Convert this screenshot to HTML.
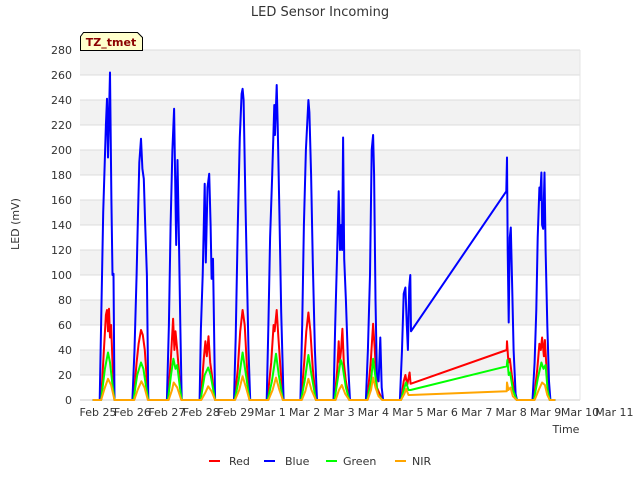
<!DOCTYPE html>
<html><head><meta charset="utf-8"><style>
body{margin:0;background:#fff;font-family:"Liberation Sans","DejaVu Sans",sans-serif}
svg text{font-family:"DejaVu Sans","Liberation Sans",sans-serif}
</style></head><body>
<svg id="c" width="640" height="480" xmlns="http://www.w3.org/2000/svg">
<rect width="640" height="480" fill="#fff"/>
<g id="bands"></g><g id="grid"></g>
<g id="series"></g>
<text x="320" y="16" text-anchor="middle" font-size="13" fill="#333">LED Sensor Incoming</text>
<text x="19" y="224" text-anchor="middle" font-size="11" fill="#333" transform="rotate(-90 19 224)">LED (mV)</text>
<text x="566" y="433" text-anchor="middle" font-size="11" fill="#333">Time</text>
<g id="ticks"></g>
<g>
<path d="M80.5,50.5 V36.5 L83.5,32.5 H137.5 L142.5,37.5 V50.5 Z" fill="#ffffcc" stroke="#000" stroke-width="1"/>
<text x="111" y="46" text-anchor="middle" font-size="11" font-weight="bold" fill="#8b0000">TZ_tmet</text>
</g>
<g id="legend"></g>
</svg>
<script>
const yTicks=[0,20,40,60,80,100,120,140,160,180,200,220,240,260,280];
const xTickLabels=["Feb 25","Feb 26","Feb 27","Feb 28","Feb 29","Mar 1","Mar 2","Mar 3","Mar 4","Mar 5","Mar 6","Mar 7","Mar 8","Mar 9","Mar 10","Mar 11"];
const seriesNames=["Red","Blue","Green","NIR"];
const seriesColors=["#ff0000","#0000ff","#00ff00","#ffa500"];
const blueData=[[-0.15,0],[0.05,0],[0.09,60],[0.15,150],[0.23,220],[0.26,241],[0.29,194],[0.35,262],[0.39,160],[0.42,100],[0.45,101],[0.48,0],
[1.0,0],[1.06,40],[1.12,100],[1.16,145],[1.2,190],[1.25,209],[1.29,185],[1.33,177],[1.37,140],[1.42,100],[1.46,0],
[2.0,0],[2.06,60],[2.11,140],[2.16,200],[2.21,233],[2.24,180],[2.27,124],[2.31,192],[2.35,130],[2.39,60],[2.43,0],
[2.95,0],[2.99,57],[3.04,100],[3.1,173],[3.13,110],[3.18,170],[3.23,181],[3.27,140],[3.3,97],[3.34,113],[3.37,60],[3.4,0],
[3.95,0],[4.0,50],[4.06,140],[4.12,210],[4.17,245],[4.2,249],[4.23,240],[4.28,160],[4.32,110],[4.37,40],[4.42,0],
[4.9,0],[4.95,60],[5.0,130],[5.06,180],[5.12,236],[5.14,212],[5.19,252],[5.22,220],[5.27,150],[5.32,70],[5.39,0],
[5.88,0],[5.93,60],[5.98,140],[6.04,200],[6.11,240],[6.14,230],[6.19,180],[6.24,110],[6.3,40],[6.36,0],
[6.84,0],[6.89,60],[6.94,110],[6.99,167],[7.03,120],[7.06,140],[7.09,120],[7.12,210],[7.15,113],[7.2,80],[7.26,30],[7.32,0],
[7.78,0],[7.84,40],[7.9,100],[7.95,200],[7.99,212],[8.02,180],[8.06,80],[8.1,20],[8.15,15],[8.2,50],[8.24,10],[8.28,0],
[8.77,0],[8.83,40],[8.88,85],[8.93,90],[8.97,60],[9.0,40],[9.04,90],[9.07,100],[9.09,55],[11.86,167],[11.88,194],[11.9,120],[11.93,62],[11.96,130],[11.99,138],[12.03,90],[12.07,40],[12.13,5],[12.17,0],
[12.62,0],[12.68,30],[12.73,72],[12.77,130],[12.82,170],[12.84,160],[12.88,182],[12.9,140],[12.93,137],[12.97,182],[13.0,120],[13.05,60],[13.1,15],[13.14,0],[13.28,0]];
const redData=[[-0.15,0],[0.09,0],[0.17,40],[0.23,68],[0.26,72],[0.29,55],[0.32,73],[0.35,50],[0.38,60],[0.42,30],[0.48,0],
[1.03,0],[1.12,30],[1.18,45],[1.25,56],[1.3,52],[1.36,40],[1.42,15],[1.46,0],
[2.03,0],[2.12,35],[2.18,65],[2.22,40],[2.25,55],[2.3,40],[2.36,20],[2.43,0],
[2.98,0],[3.08,35],[3.12,47],[3.16,35],[3.21,51],[3.26,30],[3.3,22],[3.36,8],[3.4,0],
[3.97,0],[4.06,25],[4.13,55],[4.2,72],[4.26,60],[4.32,30],[4.4,0],
[4.92,0],[5.03,30],[5.1,60],[5.13,55],[5.19,72],[5.24,50],[5.3,25],[5.38,0],
[5.9,0],[5.99,30],[6.05,55],[6.11,70],[6.17,55],[6.24,25],[6.33,0],
[6.87,0],[6.95,25],[6.99,47],[7.02,30],[7.06,40],[7.1,57],[7.14,30],[7.2,15],[7.3,0],
[7.82,0],[7.92,30],[7.99,61],[8.04,40],[8.1,10],[8.18,5],[8.26,0],
[8.8,0],[8.88,15],[8.93,20],[8.98,12],[9.05,22],[9.08,13],[11.87,40],[11.88,47],[11.92,30],[11.96,33],[12.02,20],[12.1,5],[12.16,0],
[12.66,0],[12.76,25],[12.82,45],[12.86,40],[12.9,50],[12.95,35],[12.98,48],[13.04,20],[13.12,0],[13.28,0]];
const greenData=[[-0.15,0],[0.09,0],[0.2,25],[0.29,38],[0.35,30],[0.42,12],[0.48,0],
[1.03,0],[1.14,20],[1.25,30],[1.32,25],[1.4,10],[1.46,0],
[2.03,0],[2.12,20],[2.19,33],[2.25,25],[2.3,28],[2.38,10],[2.43,0],
[2.98,0],[3.1,20],[3.2,26],[3.27,20],[3.35,8],[3.4,0],
[3.97,0],[4.08,15],[4.2,38],[4.3,20],[4.4,0],
[4.93,0],[5.05,15],[5.17,37],[5.25,20],[5.37,0],
[5.9,0],[6.0,15],[6.11,36],[6.2,20],[6.33,0],
[6.87,0],[6.97,18],[7.05,32],[7.1,28],[7.2,10],[7.3,0],
[7.82,0],[7.93,15],[7.99,33],[8.05,20],[8.12,5],[8.26,0],
[8.8,0],[8.9,10],[8.95,14],[9.02,8],[9.08,8],[11.87,27],[11.89,32],[11.93,20],[11.97,22],[12.05,8],[12.16,0],
[12.66,0],[12.78,18],[12.88,30],[12.94,25],[13.0,28],[13.06,8],[13.12,0],[13.28,0]];
const nirData=[[-0.15,0],[0.09,0],[0.2,10],[0.29,17],[0.38,12],[0.48,0],
[1.05,0],[1.15,8],[1.26,15],[1.35,10],[1.45,0],
[2.05,0],[2.15,8],[2.2,14],[2.3,10],[2.42,0],
[3.0,0],[3.12,6],[3.2,11],[3.3,7],[3.4,0],
[3.98,0],[4.1,8],[4.2,19],[4.3,10],[4.4,0],
[4.95,0],[5.07,8],[5.17,18],[5.27,8],[5.37,0],
[5.92,0],[6.02,7],[6.11,17],[6.2,8],[6.33,0],
[6.9,0],[7.0,8],[7.08,12],[7.18,5],[7.3,0],
[7.83,0],[7.93,8],[7.99,18],[8.06,10],[8.15,3],[8.26,0],
[8.8,0],[8.9,5],[8.95,9],[9.02,4],[9.08,4],[11.87,7],[11.88,14],[11.92,8],[11.98,10],[12.05,3],[12.16,0],
[12.68,0],[12.8,8],[12.9,14],[12.98,12],[13.05,4],[13.12,0],[13.28,0]];

const NS="http://www.w3.org/2000/svg";
const L=80,R=580,T=50,B=400,YMAX=280;
const x0=98,dayW=(580-98)/14;
function xs(t){return x0+t*dayW;}
function ys(v){return B-(v/YMAX)*(B-T);}
function mk(tag,attrs,parent){const e=document.createElementNS(NS,tag);for(const k in attrs)e.setAttribute(k,attrs[k]);parent.appendChild(e);return e;}
const bands=document.getElementById('bands'),grid=document.getElementById('grid'),ticks=document.getElementById('ticks');
for(let i=0;i<yTicks.length-1;i++){
  if(i%2===1){const r=mk('rect',{x:L,y:ys(yTicks[i+1]),width:R-L,height:ys(yTicks[i])-ys(yTicks[i+1]),fill:'#f2f2f2'},bands);
  
  }
}
yTicks.forEach(v=>{
  const l=mk('line',{x1:L,x2:R,y1:ys(v),y2:ys(v),stroke:'#dcdcdc','stroke-width':1},grid);
  
  
  const t=mk('text',{x:72,y:ys(v)+4,'text-anchor':'end','font-size':11,fill:'#333'},ticks);
  t.textContent=v;
  
  
});
const bl=mk('line',{x1:L,x2:R,y1:B,y2:B,stroke:'#ccc'},grid);


const rl=mk('line',{x1:R,x2:R,y1:T,y2:B,stroke:'#e4e4e4'},grid);


xTickLabels.forEach((s,i)=>{
  const t=mk('text',{x:xs(i),y:416,'text-anchor':'middle','font-size':11,fill:'#333'},ticks);
  t.textContent=s;
  
  
});
const sg=document.getElementById('series');
[redData,blueData,greenData,nirData].forEach((d,i)=>{
  const p=mk('polyline',{points:d.map(q=>xs(q[0]).toFixed(1)+','+ys(q[1]).toFixed(1)).join(' '),fill:'none',stroke:seriesColors[i],'stroke-width':2,'stroke-linejoin':'round'},sg);
  
  
});
const lg=document.getElementById('legend');
const lx=[209,264,326,395],tx=[229,285,343,412];
seriesNames.forEach((n,i)=>{
  const g=mk('g',{},lg);
  
  
  mk('line',{x1:lx[i],x2:lx[i]+11,y1:461,y2:461,stroke:seriesColors[i],'stroke-width':2},g);
  const t=mk('text',{x:tx[i],y:465,'font-size':11,fill:'#333'},g);
  t.textContent=n;
});
</script>
</body></html>
